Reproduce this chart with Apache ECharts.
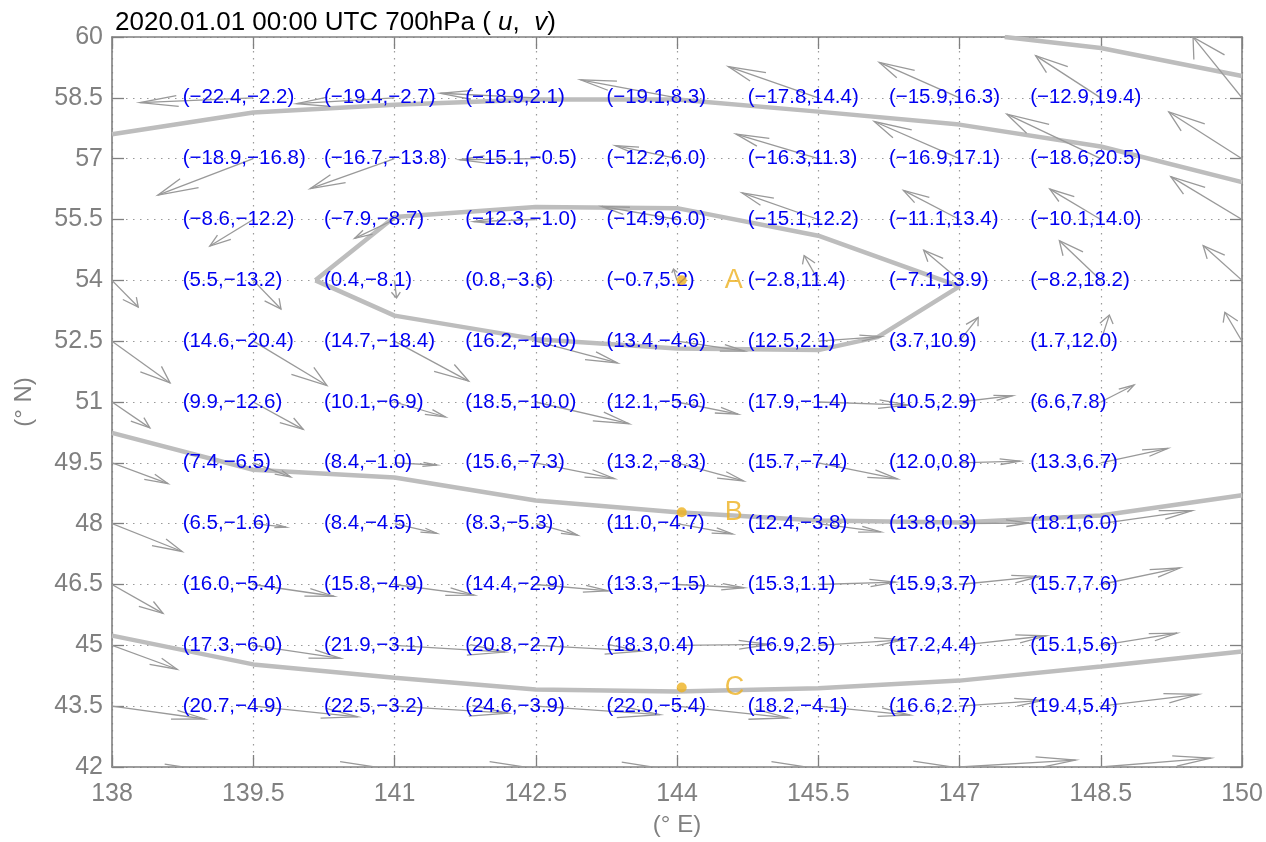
<!DOCTYPE html>
<html>
<head>
<meta charset="utf-8">
<script src="https://cdn.jsdelivr.net/npm/echarts@6/dist/echarts.min.js"></script>
<style>html,body{margin:0;padding:0;background:#fff}#c{width:1266px;height:842px}</style>
</head>
<body>
<div id="c"></div>
<script>
// ---------------- data ----------------
const lons = [138, 139.5, 141, 142.5, 144, 145.5, 147, 148.5, 150];
const lats = [60, 58.5, 57, 55.5, 54, 52.5, 51, 49.5, 48, 46.5, 45, 43.5, 42];
// wind components (u, v) at every grid point, rows follow lats, columns follow lons
const U = [
  [-20, -20, -18, -17, -16, -14, -12, -10, -8],
  [-22, -22.4, -19.4, -18.9, -19.1, -17.8, -15.9, -12.9, -9.7],
  [-19, -18.9, -16.7, -15.1, -12.2, -16.3, -16.9, -18.6, -14.5],
  [-9, -8.6, -7.9, -12.3, -14.9, -15.1, -11.1, -10.1, -14.1],
  [5.2, 5.5, 0.4, 0.8, -0.7, -2.8, -7.1, -8.2, -7.7],
  [11.5, 14.6, 14.7, 16.2, 13.4, 12.5, 3.7, 1.7, -3.4],
  [7.5, 9.9, 10.1, 18.5, 12.1, 17.9, 10.5, 6.6, 8],
  [11.1, 7.4, 8.4, 15.6, 13.2, 15.7, 12.0, 13.3, 14],
  [13.9, 6.5, 8.4, 8.3, 11.0, 12.4, 13.8, 18.1, 19],
  [10.1, 16.0, 15.8, 14.4, 13.3, 15.3, 15.9, 15.7, 16],
  [12.9, 17.3, 21.9, 20.8, 18.3, 16.9, 17.2, 15.1, 15],
  [18.4, 20.7, 22.5, 24.6, 22.0, 18.2, 16.6, 19.4, 19],
  [15.5, 25.6, 28, 25.3, 27.8, 28, 23, 21.8, 20]
];
const V = [
  [2, 3, 5, 10, 14, 16, 20, 22, 25],
  [-2, -2.2, -2.7, 2.1, 8.3, 14.4, 16.3, 19.4, 27.9],
  [-15, -16.8, -13.8, -0.5, 6.0, 11.3, 17.1, 20.5, 21.5],
  [-12, -12.2, -8.7, -1.0, 6.0, 12.2, 13.4, 14.0, 19.7],
  [-12.3, -13.2, -8.1, -3.6, 5.2, 11.4, 13.9, 18.2, 16.0],
  [-19.2, -20.4, -18.4, -10.0, -4.6, 2.1, 10.9, 12.0, 13.3],
  [-11.9, -12.6, -6.9, -10.0, -5.6, -1.4, 2.9, 7.8, 8],
  [-9.6, -6.5, -1.0, -7.3, -8.3, -7.4, 0.8, 6.7, 7],
  [-12.8, -1.6, -4.5, -5.3, -4.7, -3.8, 0.3, 6.0, 6],
  [-13.3, -5.4, -4.9, -2.9, -1.5, 1.1, 3.7, 7.6, 8],
  [-11.0, -6.0, -3.1, -2.7, 0.4, 2.5, 4.4, 5.6, 6],
  [-5.9, -4.9, -3.2, -3.9, -5.4, -4.1, 2.7, 5.4, 6],
  [-0.5, -0.5, -0.8, -0.8, -0.8, -0.5, 3.2, 4.1, 5]
];
// contour lines (lon, lat)
const contour1 = [[147.48, 60], [148.5, 59.73], [150, 59.04]];
const contour2 = [[138, 57.6], [139.5, 58.14], [141, 58.33], [142.5, 58.46], [144, 58.46], [145.5, 58.16], [147, 57.84], [148.5, 57.3], [150, 56.42]];
const contour3 = [[140.16, 54], [141, 55.56], [142.5, 55.81], [144, 55.78], [145.5, 55.1], [147, 53.85], [146.13, 52.6], [145.5, 52.28], [144, 52.32], [142.5, 52.55], [141, 53.13], [140.16, 54]];
const contour4 = [[138, 50.24], [139.5, 49.33], [141, 49.14], [142.5, 48.57], [144, 48.28], [145.5, 48.08], [147, 48.03], [148.5, 48.2], [150, 48.7]];
const contour5 = [[138, 45.24], [139.5, 44.53], [141, 44.2], [142.5, 43.91], [144, 43.86], [145.5, 43.94], [147, 44.13], [148.5, 44.48], [150, 44.85]];
// marked points
const pointNames = ['A', 'B', 'C'];
const pointLon = [144.05, 144.05, 144.05];
const pointLat = [54.0, 48.28, 43.96];
const titleText = '2020.01.01 00:00 UTC 700hPa ( {i|u},  {i|v})';

// ---------------- build ----------------
const FONT = "'Liberation Sans', Arial, Helvetica, sans-serif";
const GRAY = '#808080';
const arrowData = [];
const labelData = [];
lats.forEach((la, r) => {
  lons.forEach((lo, c) => {
    arrowData.push([lo, la, U[r][c], V[r][c]]);
    if (r > 0 && r < lats.length - 1 && c > 0 && c < lons.length - 1) {
      labelData.push([lo, la, U[r][c], V[r][c]]);
    }
  });
});
const fmt = n => n.toFixed(1).replace('-', '\u2212');
const QS = 0.0536, HA = 0.33, HB = 0.33;

function contourSeries(d) {
  return {
    type: 'line', data: d, showSymbol: false, symbol: 'none', z: 1, silent: true,
    lineStyle: { color: '#bdbdbd', width: 4.5 }, clip: true, animation: false
  };
}

const chart = echarts.init(document.getElementById('c'), null, { renderer: 'canvas' });
const axisCommon = {
  type: 'value', interval: 1.5,
  axisLine: { show: true, onZero: false, lineStyle: { color: GRAY, width: 1.6 } },
  axisTick: { show: true, inside: true, length: 12, lineStyle: { color: GRAY, width: 1.3 } },
};
chart.setOption({
  animation: false,
  backgroundColor: '#fff',
  title: {
    text: titleText, left: 110, top: 5,
    textStyle: {
      color: '#000', fontSize: 26, fontWeight: 'normal', fontFamily: FONT,
      rich: { i: { fontStyle: 'italic', fontSize: 26, fontFamily: FONT, color: '#000' } }
    }
  },
  grid: { left: 112, top: 37, width: 1130, height: 734, containLabel: false },
  xAxis: [
    Object.assign({}, axisCommon, {
      position: 'bottom', min: 138, max: 150,
      name: '(° E)', nameLocation: 'middle', nameGap: 46,
      nameTextStyle: { color: GRAY, fontSize: 24, fontFamily: FONT },
      axisLabel: { color: GRAY, fontSize: 25, fontFamily: FONT, margin: 15 },
      splitLine: { show: true, lineStyle: { color: '#9a9a9a', type: [1.5, 5.5], width: 1.2 } }
    }),
    Object.assign({}, axisCommon, {
      position: 'top', min: 138, max: 150,
      axisLabel: { show: false }, splitLine: { show: false }
    })
  ],
  yAxis: [
    Object.assign({}, axisCommon, {
      position: 'left', min: 42, max: 60,
      name: '(° N)', nameLocation: 'middle', nameGap: 76,
      nameTextStyle: { color: GRAY, fontSize: 24, fontFamily: FONT },
      axisLabel: { color: GRAY, fontSize: 25, fontFamily: FONT, margin: 9 },
      splitLine: { show: true, lineStyle: { color: '#9a9a9a', type: [1.5, 5.5], width: 1.2 } }
    }),
    Object.assign({}, axisCommon, {
      position: 'right', min: 42, max: 60,
      axisLabel: { show: false }, splitLine: { show: false }
    })
  ],
  series: [
    contourSeries(contour1), contourSeries(contour2), contourSeries(contour3),
    contourSeries(contour4), contourSeries(contour5),
    {
      type: 'custom', data: arrowData, clip: true, z: 2, silent: true,
      renderItem: function (params, api) {
        const x = api.value(0), y = api.value(1), u = api.value(2), v = api.value(3);
        const du = QS * u, dv = QS * v;
        const tx = x + du, ty = y + dv;
        const p0 = api.coord([x, y]);
        const p1 = api.coord([tx, ty]);
        const h1 = api.coord([tx - HA * (du + HB * dv), ty - HA * (dv - HB * du)]);
        const h2 = api.coord([tx - HA * (du - HB * dv), ty - HA * (dv + HB * du)]);
        const st = { stroke: '#999999', lineWidth: 1.3, fill: null };
        return {
          type: 'group', children: [
            { type: 'polyline', shape: { points: [p0, p1] }, style: st },
            { type: 'polyline', shape: { points: [h1, p1, h2] }, style: st }
          ]
        };
      }
    },
    {
      type: 'custom', data: labelData, z: 3, silent: true,
      renderItem: function (params, api) {
        const p = api.coord([api.value(0) - 0.75, api.value(1)]);
        return {
          type: 'text', x: p[0], y: p[1],
          style: {
            text: '(' + fmt(api.value(2)) + ',' + fmt(api.value(3)) + ')',
            fill: '#0000f0', font: '20.5px ' + FONT, textAlign: 'left', textVerticalAlign: 'middle'
          }
        };
      }
    },
    {
      type: 'scatter', z: 4, silent: true, symbolSize: 10,
      itemStyle: { color: '#EDB120' },
      data: pointNames.map((n, i) => ({ name: n, value: [pointLon[i], pointLat[i]] })),
      label: {
        show: true, position: 'right', distance: 38, formatter: '{b}',
        color: '#EDB120', fontSize: 27, fontFamily: FONT
      }
    }
  ]
});
</script>
</body>
</html>
